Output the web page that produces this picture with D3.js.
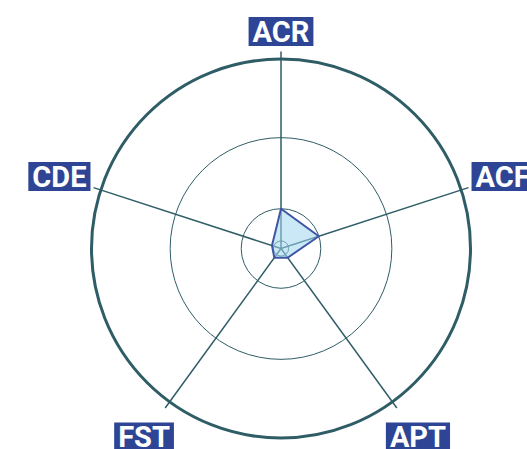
<!DOCTYPE html>
<html>
<head>
<meta charset="utf-8">
<script src="https://cdn.jsdelivr.net/npm/d3@7"></script>
<style>
html,body{margin:0;padding:0;background:#fff;overflow:hidden;}
svg{display:block;}
</style>
</head>
<body>
<svg id="chart" width="527" height="449"></svg>
<script>
const axes = ["ACR", "ACF", "APT", "FST", "CDE"];
const values = [21, 21, 6, 6, 5];
const gridLevels = [4, 21, 58.5, 100];
const maxValue = 100;

const W = 527, H = 449;
const cx = 281, cy = 248.5, R = 189.5;
const svg = d3.select("#chart");
const r = d3.scaleLinear().domain([0, maxValue]).range([0, R]);
const angle = d3.scalePoint().domain(axes).range([0, 2 * Math.PI * (axes.length - 1) / axes.length]);

const g = svg.append("g").attr("transform", `translate(${cx},${cy})`);
const teal = "#2f5d66";

// grid circles
g.selectAll("circle.grid").data(gridLevels).join("circle")
  .attr("class", "grid")
  .attr("r", d => r(d))
  .attr("fill", "none")
  .attr("stroke", teal)
  .attr("stroke-width", (d, i) => i === gridLevels.length - 1 ? 3 : 1);

// axis lines
const axisExt = r(maxValue * 1.04);
g.selectAll("line.axis").data(axes).join("line")
  .attr("class", "axis")
  .attr("x1", 0).attr("y1", 0)
  .attr("x2", d => axisExt * Math.sin(angle(d)))
  .attr("y2", d => -axisExt * Math.cos(angle(d)))
  .attr("stroke", teal)
  .attr("stroke-width", 1.5);

// data polygon
const line = d3.lineRadial()
  .angle((d, i) => angle(axes[i]))
  .radius(d => r(d))
  .curve(d3.curveLinearClosed);
g.append("path")
  .datum(values)
  .attr("d", line)
  .attr("fill", "rgba(160,214,238,0.55)")
  .attr("stroke", "#3f55a6")
  .attr("stroke-width", 2)
  .attr("stroke-linejoin", "round");

// labels
const fs = 29;
const labelR = r(maxValue) + 43.5;
const boxH = 29;
const lab = g.selectAll("g.lab").data(axes).join("g").attr("class", "lab");
lab.each(function(d) {
  const a = angle(d);
  let x = labelR * Math.sin(a);
  let y = -labelR * Math.cos(a);
  // keep box inside the top of the view
  const minY = 17 - cy + boxH / 2;
  if (y < minY) y = minY;
  const sel = d3.select(this);
  const rect = sel.append("rect").attr("fill", "#2d4594");
  const t = sel.append("text")
    .attr("x", x)
    .attr("y", y + fs * 0.711 / 2)
    .attr("text-anchor", "middle")
    .attr("font-family", "Roboto, 'Liberation Sans', sans-serif")
    .attr("font-weight", 700)
    .attr("font-size", fs)
    .attr("fill", "#fff")
    .text(d);
  const w = t.node().getComputedTextLength();
  const bw = w + 8;
  rect.attr("x", x - bw / 2).attr("y", y - boxH / 2).attr("width", bw).attr("height", boxH);
});
</script>
</body>
</html>
